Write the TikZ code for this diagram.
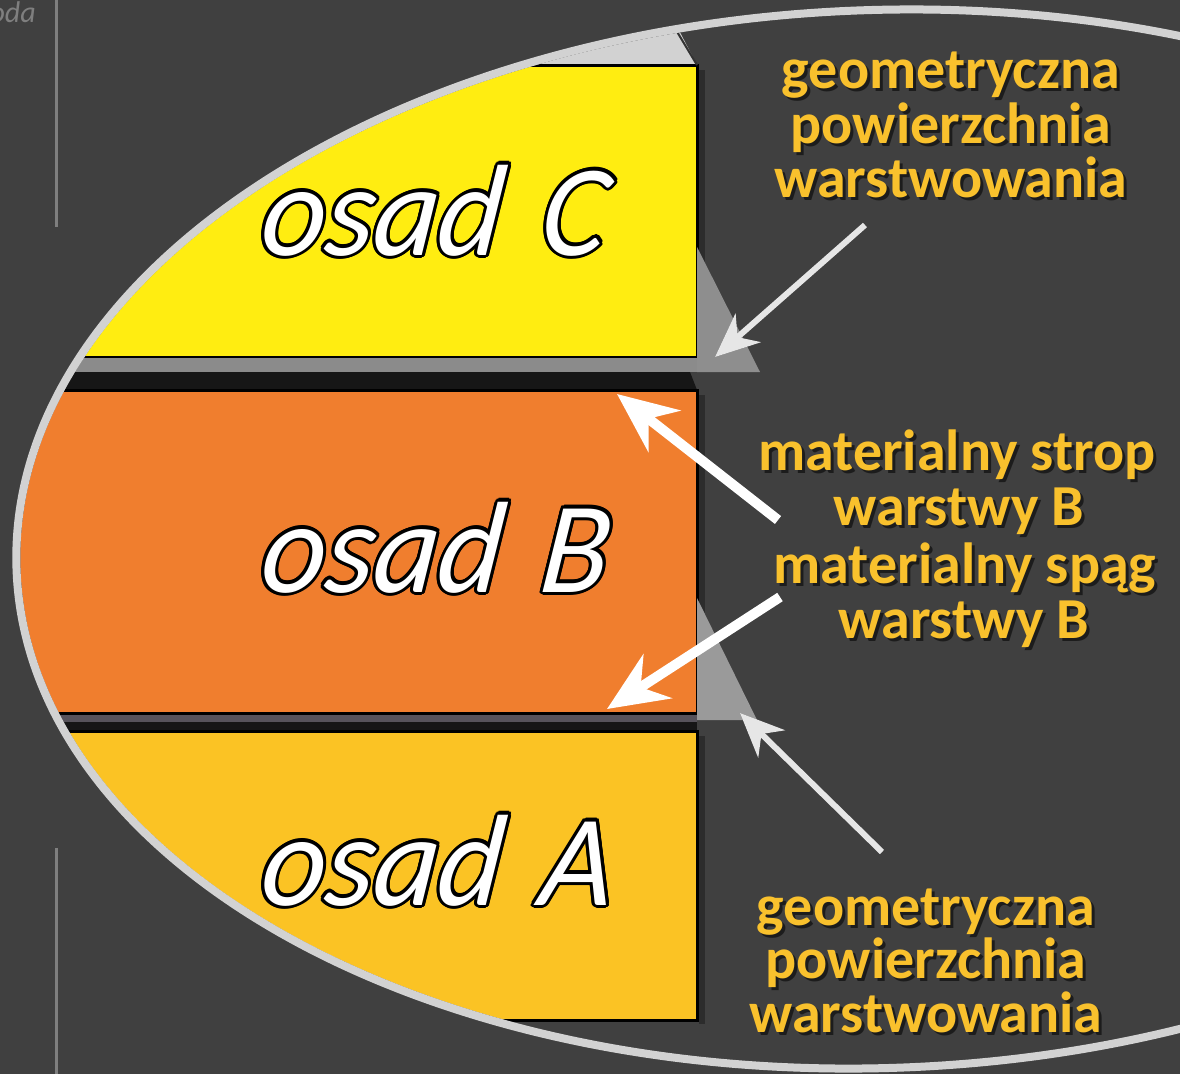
\documentclass[tikz,border=0pt]{standalone}
\usepackage{fontspec}
\setmainfont{Carlito}
\usetikzlibrary{arrows.meta,calc}
\definecolor{bg}{HTML}{404040}
\definecolor{ring}{HTML}{D2D2D2}
\definecolor{layC}{HTML}{FFED11}
\definecolor{layB}{HTML}{F07E2E}
\definecolor{layA}{HTML}{FBC324}
\definecolor{labely}{HTML}{F9C12D}
\definecolor{gband}{HTML}{8B8B8B}
\definecolor{dband}{HTML}{57535B}
\definecolor{nearblack}{HTML}{161616}
\definecolor{tri}{HTML}{8E8E8E}
\definecolor{trib}{HTML}{9A9A9A}
\definecolor{garr}{HTML}{E6E6E6}
\definecolor{vline}{HTML}{7F7F7F}
\tikzset{
  lbl/.style={font=\fontsize{58}{58}\selectfont\bfseries, text=labely, anchor=base, inner sep=0pt},
  lblshadow/.style={lbl, text=black, opacity=0.55},
  osadf/.style={font=\fontsize{130}{130}\selectfont\itshape, anchor=base west, inner sep=0pt, transform shape},
  blockbox/.style={draw=black, line width=3pt},
  warrow/.style={draw=white, line width=10pt, -{Stealth[length=60pt,width=52pt,inset=20pt]}},
  garrow/.style={draw=garr, line width=6pt, -{Stealth[length=44pt,width=38pt,inset=14pt]}},
  arrshadow/.style={draw=black, opacity=0.3},
}
\newcommand\ylab[4]{%
  \node[lblshadow] at (#2+3,#3+3) {#4};
  \node[lbl] (#1) at (#2,#3) {#4};}
\newcommand\osadtext[4]{%
  \begin{scope}[shift={(#2,#3)}, xslant=0.13, xscale=0.96]
    \foreach \ang in {0,22.5,...,337.5}
      \node[osadf,text=black] at (\ang:3.2) {osad\hspace{11pt} #4};
    \node[osadf,text=white] (#1) at (0,0) {osad\hspace{11pt} #4};
  \end{scope}}
\begin{document}
\begin{tikzpicture}[x=1pt,y=-1pt]
\useasboundingbox (0,0) rectangle (1180,1074);
\fill[bg] (0,0) rectangle (1180,1074);
% left vertical lines
\draw[vline, line width=3pt] (56,0) -- (56,227);
\draw[vline, line width=3pt] (56,848) -- (56,1074);
\node[font=\fontsize{30}{30}\selectfont\itshape, text=vline, anchor=base east, inner sep=0pt] (oda) at (36,22) {oda};
% layers clipped by the ellipse
\begin{scope}
  \clip[rotate around={2:(880,539)}] (880,539) ellipse [x radius=860, y radius=525];
  \fill[ring] (-10,-10) -- (658,-10) -- (697,65) -- (-10,65) -- cycle;
  \fill[layC] (-10,65) rectangle (697,357);
  \draw[blockbox] (-10,65) -- (697,65) -- (697,357) -- (-10,357);
  \fill[gband] (-10,358) rectangle (697,372);
  \fill[nearblack] (-10,372) -- (690,372) -- (697,390) -- (-10,390) -- cycle;
  \fill[layB] (-10,390) rectangle (697,713);
  \draw[blockbox] (-10,390) -- (697,390) -- (697,713) -- (-10,713);
  \fill[dband] (-10,715) rectangle (697,722);
  \fill[nearblack] (-10,722) rectangle (697,731);
  \fill[layA] (-10,731) rectangle (697,1020);
  \draw[blockbox] (-10,731) -- (697,731) -- (697,1020) -- (-10,1020);
\end{scope}
% block shadows
\fill[black, opacity=0.3] (699,70) rectangle (705,360);
\fill[black, opacity=0.3] (699,395) rectangle (705,716);
\fill[black, opacity=0.3] (699,736) rectangle (705,1024);
% geometric surface wedges
\fill[tri] (697,247) -- (760,372) -- (697,372) -- cycle;
\fill[trib] (697,598) -- (757,720) -- (697,720) -- cycle;
% boundary of the top cap
\draw[black!80, line width=2pt] (676,30) -- (697,65);
% ellipse ring
\draw[ring, line width=8pt, rotate around={2:(880,539)}] (880,539) ellipse [x radius=864, y radius=529];
% layer names
\osadtext{oC}{258}{255}{C}
\osadtext{oB}{258}{592}{B}
\osadtext{oA}{258}{905}{A}
% labels
\ylab{t1}{951}{88}{geometryczna}
\ylab{t2}{951}{143}{powierzchnia}
\ylab{t3}{951}{197}{warstwowania}
\ylab{m1}{957}{470}{materialny strop}
\ylab{m2}{959}{525}{warstwy B}
\ylab{m3}{965}{583}{materialny spąg}
\ylab{m4}{964}{638}{warstwy B}
\ylab{b1}{926}{925}{geometryczna}
\ylab{b2}{926}{978}{powierzchnia}
\ylab{b3}{926}{1032}{warstwowania}
% arrow end points
\coordinate (a1s) at (865,225);
\coordinate (a1e) at (715,357);
\coordinate (a2s) at (778,520);
\coordinate (a2e) at (617,394);
\coordinate (a3s) at (780,597);
\coordinate (a3e) at (607,709);
\coordinate (a4s) at (882,852);
\coordinate (a4e) at (740,713);
% arrow shadows
\begin{scope}[shift={(3,3)}]
  \draw[garrow, arrshadow] (a1s) -- (a1e);
  \draw[garrow, arrshadow] (a4s) -- (a4e);
\end{scope}
% arrows
\draw[garrow] (a1s) -- (a1e);
\draw[warrow] (a2s) -- (a2e);
\draw[warrow] (a3s) -- (a3e);
\draw[garrow] (a4s) -- (a4e);
\end{tikzpicture}
\end{document}
